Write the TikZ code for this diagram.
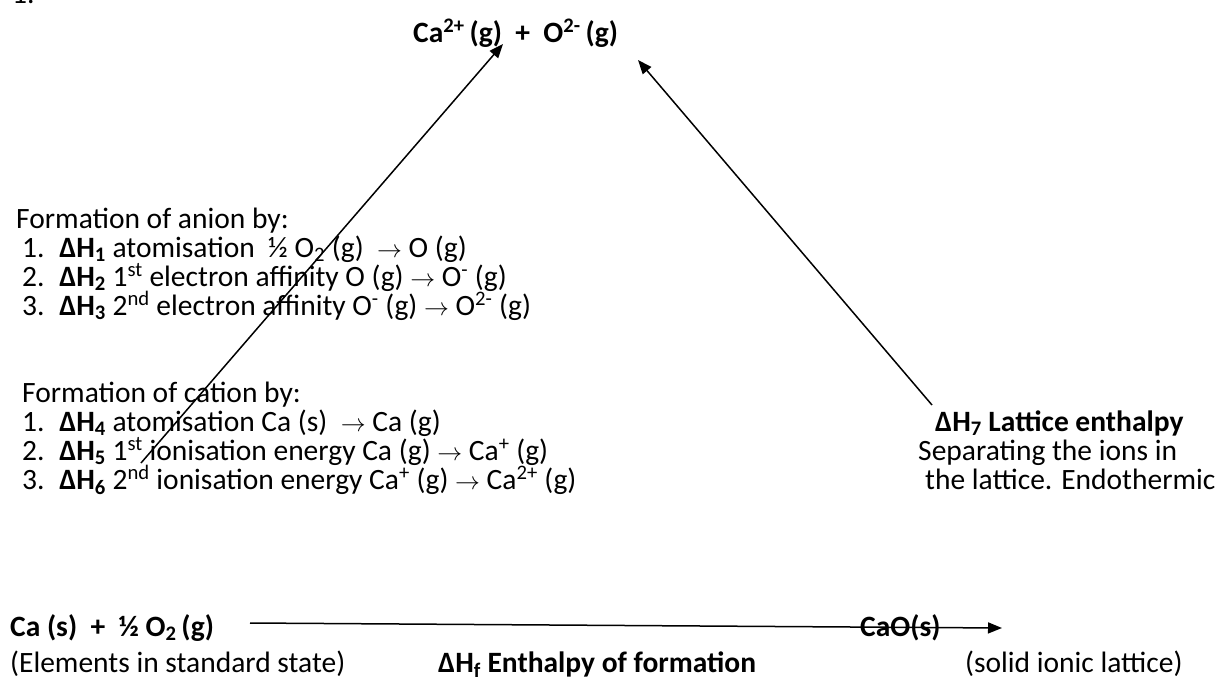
\documentclass[tikz,border=0pt]{standalone}
\usepackage{fontspec}
\setmainfont{Carlito}
\usetikzlibrary{arrows.meta}
\newcommand{\mysup}[1]{\textsuperscript{#1}}
\newcommand{\mysub}[1]{\textsubscript{#1}}
\newcommand{\ar}{$\rightarrow$}
\newcommand{\numgap}{\hspace{0.5em}}
\begin{document}
\begin{tikzpicture}[x=1pt,y=-1pt,
  txt/.style={anchor=base west, inner sep=0pt, font=\fontsize{29.5}{29.5}\selectfont},
  btxt/.style={anchor=base west, inner sep=0pt, font=\fontsize{29.5}{29.5}\selectfont\bfseries},
  arr/.style={line width=1.5pt, -{Triangle[length=14pt,width=11pt]}}]
\useasboundingbox (0,0) rectangle (1221,683);
\clip (0,0) rectangle (1221,683);
\fill[white] (0,0) rectangle (1221,683);
% cropped list number at the very top
\node[txt] (num) at (12,3) {1.};
% top state
\node[btxt] (ions) at (413,42) {Ca\mysup{2+}\,(g)~~+~~O\mysup{2-}\,(g)};
% anion formation
\node[txt] (anion) at (16,228) {Formation of anion by:};
\node[txt] (a1) at (22,257) {1.\numgap\textbf{ΔH\mysub{1}} atomisation~~½ O\mysub{2} (g)~~\ar{} O (g)};
\node[txt] (a2) at (22,286) {2.\numgap\textbf{ΔH\mysub{2}} 1\mysup{st} electron affinity O (g) \ar{} O\mysup{-} (g)};
\node[txt] (a3) at (22,315) {3.\numgap\textbf{ΔH\mysub{3}} 2\mysup{nd} electron affinity O\mysup{-} (g) \ar{} O\mysup{2-} (g)};
% cation formation
\node[txt] (cation) at (22,402) {Formation of cation by:};
\node[txt] (c1) at (22,431) {1.\numgap\textbf{ΔH\mysub{4}} atomisation Ca (s)~~\ar{} Ca (g)};
\node[txt] (c2) at (22,460) {2.\numgap\textbf{ΔH\mysub{5}} 1\mysup{st} ionisation energy Ca (g) \ar{} Ca\mysup{+} (g)};
\node[txt] (c3) at (22,489) {3.\numgap\textbf{ΔH\mysub{6}} 2\mysup{nd} ionisation energy Ca\mysup{+} (g) \ar{} Ca\mysup{2+} (g)};
% lattice enthalpy
\node[btxt] (lat) at (935,431) {ΔH\mysub{7} Lattice enthalpy};
\node[txt] (sep1) at (918,460) {Separating the ions in};
\node[txt] (sep2) at (925,489) {the lattice. Endothermic};
% bottom
\node[btxt] (elem) at (10,636) {Ca (s)~~+~~½ O\mysub{2}\,(g)};
\node[txt] (elemlab) at (10,672) {(Elements in standard state)};
\node[btxt] (hf) at (438,672) {ΔH\mysub{f} Enthalpy of formation};
\node[btxt] (cao) at (860,636) {CaO(s)};
\node[txt] (caolab) at (965,672) {(solid ionic lattice)};
% connectors
\coordinate (l0) at (141,463);
\coordinate (l1) at (503,44);
\coordinate (r0) at (932,405);
\coordinate (r1) at (638,60);
\coordinate (h0) at (250,623);
\coordinate (h1) at (1002,628);
\draw[arr] (l0) -- (l1);
\draw[arr] (r0) -- (r1);
\draw[arr] (h0) -- (h1);
\end{tikzpicture}
\end{document}
